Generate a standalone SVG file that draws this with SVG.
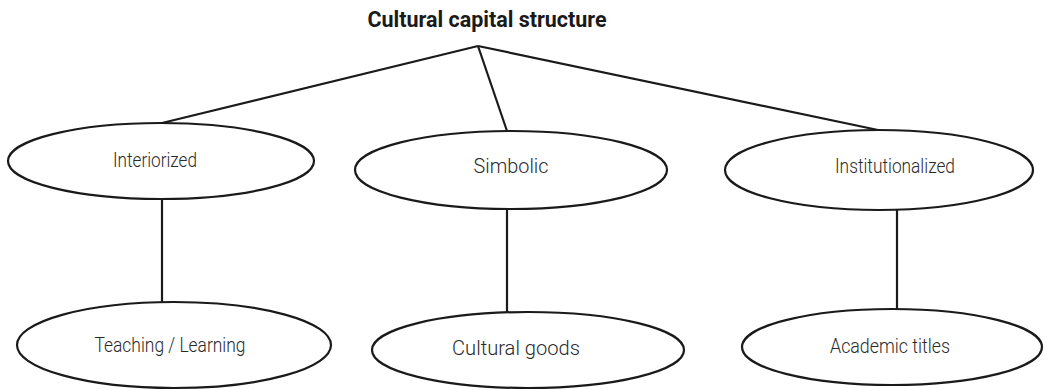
<svg xmlns="http://www.w3.org/2000/svg" width="1047" height="390" viewBox="0 0 1047 390">
<style>
.node ellipse{fill:#fff;stroke:#1a1a1a;stroke-width:2.2}
.node text{font-family:Roboto,"Liberation Sans",sans-serif;font-weight:300;font-size:21px;fill:#2a2a2a;text-anchor:middle}
.title{font-family:Roboto,"Liberation Sans",sans-serif;font-weight:700;font-size:22px;fill:#1a1a1a;text-anchor:middle}
#connectors line{stroke:#1a1a1a;stroke-width:2.2;fill:none}
</style>
<rect width="1047" height="390" fill="#fff"/>
<g id="connectors">
<line x1="478" y1="46" x2="162" y2="123"/>
<line x1="478" y1="46" x2="507" y2="131"/>
<line x1="478" y1="46" x2="878" y2="130"/>
<line x1="162" y1="199" x2="162" y2="302"/>
<line x1="507" y1="209" x2="507" y2="312"/>
<line x1="897" y1="210" x2="897" y2="309"/>
</g>
<g id="title"><text class="title" x="487" y="27" textLength="239" lengthAdjust="spacingAndGlyphs">Cultural capital structure</text></g>
<g id="interiorized" class="node"><ellipse cx="161" cy="161" rx="153" ry="38"/><text x="155" y="167" textLength="84" lengthAdjust="spacingAndGlyphs">Interiorized</text></g>
<g id="simbolic" class="node"><ellipse cx="511" cy="170" rx="156" ry="39"/><text x="511" y="173" textLength="75" lengthAdjust="spacingAndGlyphs">Simbolic</text></g>
<g id="institutionalized" class="node"><ellipse cx="879" cy="170" rx="154" ry="40"/><text x="895" y="173" textLength="120" lengthAdjust="spacingAndGlyphs">Institutionalized</text></g>
<g id="teaching" class="node"><ellipse cx="174" cy="345" rx="157" ry="43"/><text x="170" y="352" textLength="151" lengthAdjust="spacingAndGlyphs">Teaching / Learning</text></g>
<g id="cultural-goods" class="node"><ellipse cx="528" cy="350" rx="156" ry="38"/><text x="516" y="355" textLength="128" lengthAdjust="spacingAndGlyphs">Cultural goods</text></g>
<g id="academic-titles" class="node"><ellipse cx="892" cy="347" rx="150" ry="38"/><text x="890" y="353" textLength="120" lengthAdjust="spacingAndGlyphs">Academic titles</text></g>
</svg>
